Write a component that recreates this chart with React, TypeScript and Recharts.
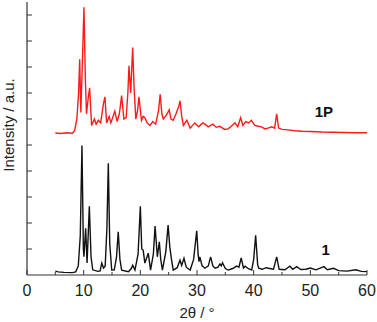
import { LineChart, Line, XAxis, YAxis, ReferenceDot, Label } from 'recharts'

// 2θ positions and intensities (offset, a.u.)
const theta1P = [
  5.0, 6.0, 7.0, 8.0, 8.4, 8.8, 9.1, 9.3, 9.5, 9.75, 10.05, 10.3, 10.5, 10.8, 11.05, 11.4, 11.9, 12.2,
  12.6, 13.0, 13.5, 13.75, 14.05, 14.5, 14.8, 15.5, 15.9, 16.3, 16.7, 17.1, 17.5, 17.8, 18.0, 18.3,
  18.65, 18.9, 19.2, 19.5, 19.76, 20.2, 20.5, 20.8, 21.2, 21.7, 22.2, 22.7, 23.2, 23.5, 23.8, 24.05,
  24.6, 25.1, 25.4, 25.8, 26.3, 26.8, 27.0, 27.3, 27.6, 28.2, 28.8, 29.6, 30.3, 31.0, 31.4, 32.0,
  32.8, 33.4, 34.0, 34.9, 35.5, 36.2, 36.7, 37.2, 37.7, 38.1, 38.6, 39.1, 39.6, 40.2, 40.8, 41.4,
  42.0, 42.5, 43.2, 43.7, 44.06, 44.4, 45.0, 46.0, 47.3, 48.5, 50.0, 52.0, 54.0, 56.0, 58.0, 60.0,
]
const int1P = [
  5.46, 5.44, 5.47, 5.45, 5.55, 6.0, 7.0, 8.3, 6.25, 8.0, 10.3, 7.5, 6.2, 6.8, 7.2, 5.75, 6.0, 5.8,
  5.95, 5.85, 6.6, 6.85, 5.85, 6.1, 5.85, 6.3, 5.9, 6.2, 6.9, 6.0, 6.05, 7.0, 8.05, 7.0,
  8.75, 7.2, 6.0, 6.3, 6.85, 5.95, 6.1, 6.05, 5.85, 5.75, 5.9, 5.8, 6.3, 6.95, 6.2, 6.0,
  6.15, 6.35, 6.0, 5.95, 6.2, 6.5, 6.7, 6.1, 5.75, 5.95, 5.65, 5.85, 5.7, 5.85, 5.8, 5.7,
  5.8, 5.68, 5.72, 5.6, 5.62, 5.75, 5.85, 5.7, 6.05, 5.75, 5.9, 5.85, 5.95, 5.75, 5.72, 5.7,
  5.62, 5.65, 5.7, 5.65, 6.2, 5.65, 5.6, 5.58, 5.55, 5.53, 5.52, 5.5, 5.49, 5.48, 5.47, 5.47,
]

const theta1 = [
  5.0, 5.5, 6.5, 8.0, 8.6, 9.05, 9.4, 9.7, 9.95, 10.05, 10.35, 10.6, 11.0, 11.3, 11.6, 12.5, 12.9,
  13.2, 13.5, 13.8, 14.1, 14.35, 14.6, 14.95, 15.4, 15.8, 16.1, 16.4, 16.7, 17.9, 18.4, 18.65, 19.05,
  19.6, 20.0, 20.25, 20.5, 20.8, 21.4, 21.8, 22.3, 22.6, 23.0, 23.35, 23.6, 23.9, 24.5, 24.9, 25.2,
  25.5, 25.8, 26.5, 27.0, 27.3, 27.7, 28.1, 28.8, 29.4, 29.95, 30.2, 30.35, 30.5, 30.9, 31.4, 32.0,
  32.4, 32.8, 33.2, 33.7, 34.05, 34.3, 34.5, 35.0, 35.5, 36.3, 37.0, 37.4, 37.8, 38.2, 38.5, 39.0,
  39.65, 40.0, 40.35, 40.7, 40.9, 41.5, 42.2, 42.8, 43.5, 44.06, 44.5, 45.5, 46.4, 46.9, 47.6, 48.3,
  49.2, 50.0, 51.0, 52.4, 53.0, 54.1, 55.0, 56.5, 58.0, 59.0, 60.0,
]
const int1 = [
  0.15, 0.12, 0.1, 0.09, 0.12, 0.35, 1.5, 4.98, 1.0, 0.7, 1.8, 0.46, 2.64, 0.7, 0.2, 0.14, 0.16,
  0.46, 0.27, 0.35, 1.8, 4.3, 1.2, 0.19, 0.2, 0.7, 1.66, 0.6, 0.19, 0.13, 0.25, 0.38, 0.19,
  0.8, 2.64, 1.0, 0.96, 0.46, 0.84, 0.19, 0.8, 1.88, 0.7, 1.28, 0.6, 0.19, 0.9, 1.92, 1.08,
  0.6, 0.19, 0.28, 0.57, 0.37, 0.64, 0.3, 0.19, 0.6, 1.7, 0.8, 0.51, 0.7, 0.35, 0.26, 0.35,
  0.7, 0.35, 0.26, 0.3, 0.42, 0.35, 0.47, 0.25, 0.19, 0.25, 0.34, 0.3, 0.66, 0.27, 0.34, 0.25,
  0.19, 0.6, 1.53, 0.4, 0.26, 0.22, 0.28, 0.25, 0.22, 0.7, 0.22, 0.2, 0.34, 0.22, 0.32, 0.21,
  0.22, 0.27, 0.2, 0.32, 0.2, 0.26, 0.17, 0.15, 0.2, 0.14, 0.13,
]

const xTicks = [0, 5, 10, 15, 20, 25, 30, 35, 40, 45, 50, 55, 60]
const yTicks = [1, 2, 3, 4, 5, 6, 7, 8, 9, 10]

const FONT = '"Liberation Sans", Arial, sans-serif'
const AXIS = '#333'

const data1P = theta1P.map((t, i) => ({ theta: t, value: int1P[i] }))
const data1 = theta1.map((t, i) => ({ theta: t, value: int1[i] }))

// ticks point inwards; labels only on the tens
const XTick = ({ x, y, payload }: any) => {
  const major = payload.value % 10 === 0
  return (
    <g>
      <line x1={x} x2={x} y1={y} y2={y - (major ? 5 : 3)} stroke={AXIS} />
      {major && (
        <text x={x} y={y + 21} textAnchor="middle" fontSize={16} fontFamily={FONT} fill="#222">
          {payload.value}
        </text>
      )}
    </g>
  )
}

const YTick = ({ x, y }: any) => <line x1={x} x2={x + 5} y1={y} y2={y} stroke={AXIS} />

const YTitle = () => (
  <text
    transform="translate(14,125) rotate(-90)"
    textAnchor="middle"
    fontSize={15}
    fontFamily={FONT}
    fill="#222"
  >
    Intensity / a.u.
  </text>
)

export default function App() {
  return (
    <div style={{ position: 'absolute', left: 0, top: 0, background: '#fff' }}>
      <LineChart width={377} height={322} margin={{ top: 2, right: 10, bottom: 0, left: 0 }}>
        <XAxis
          dataKey="theta"
          type="number"
          domain={[0, 60]}
          ticks={xTicks}
          interval={0}
          height={47}
          tickSize={0}
          tickMargin={0}
          tickLine={false}
          tick={<XTick />}
          axisLine={{ stroke: AXIS, strokeWidth: 1.2 }}
          allowDataOverflow
        >
          <Label
            value="2θ / °"
            position="insideBottom"
            offset={4}
            style={{ fontSize: 15, fontFamily: FONT, fill: '#222' }}
          />
        </XAxis>
        <XAxis
          xAxisId="top"
          orientation="top"
          type="number"
          domain={[0, 60]}
          height={0}
          tick={false}
          tickLine={false}
          axisLine={{ stroke: '#bbb' }}
        />
        <YAxis
          type="number"
          domain={[0, 10.5]}
          ticks={yTicks}
          interval={0}
          width={27}
          tickSize={0}
          tickMargin={0}
          tickLine={false}
          tick={<YTick />}
          axisLine={{ stroke: AXIS, strokeWidth: 1.2 }}
          allowDataOverflow
        >
          <Label content={<YTitle />} />
        </YAxis>
        <YAxis
          yAxisId="right"
          orientation="right"
          width={0}
          tick={false}
          tickLine={false}
          axisLine={{ stroke: AXIS, strokeWidth: 1.2 }}
        />
        <Line
          data={data1P}
          dataKey="value"
          type="linear"
          stroke="#ff1a1a"
          strokeWidth={1.4}
          dot={false}
          isAnimationActive={false}
        />
        <Line
          data={data1}
          dataKey="value"
          type="linear"
          stroke="#111"
          strokeWidth={1.4}
          dot={false}
          isAnimationActive={false}
        />
        <ReferenceDot
          x={52.4}
          y={6.3}
          r={0}
          fill="none"
          stroke="none"
          label={{ value: '1P', position: 'center', fontSize: 15, fontWeight: 'bold', fontFamily: FONT, fill: '#111' }}
        />
        <ReferenceDot
          x={52.7}
          y={0.96}
          r={0}
          fill="none"
          stroke="none"
          label={{ value: '1', position: 'center', fontSize: 15, fontWeight: 'bold', fontFamily: FONT, fill: '#111' }}
        />
      </LineChart>
    </div>
  )
}
